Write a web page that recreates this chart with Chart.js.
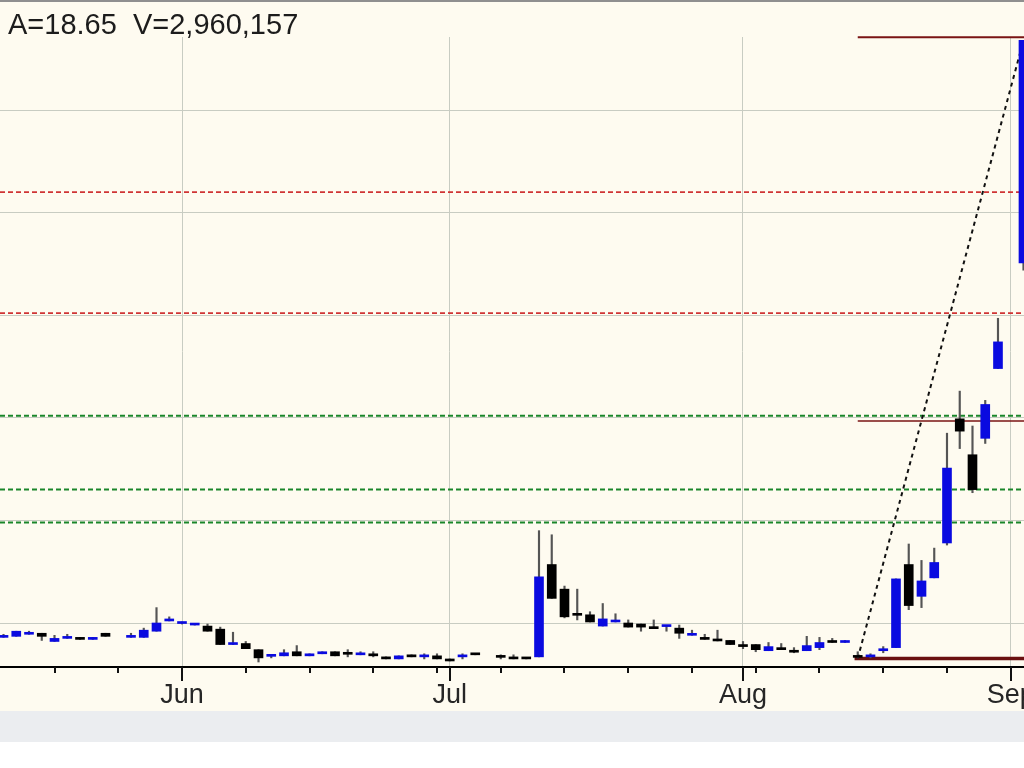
<!DOCTYPE html>
<html>
<head>
<meta charset="utf-8">
<script src="https://cdn.jsdelivr.net/npm/chart.js@4/dist/chart.umd.min.js"></script>
<style>
  body { margin: 0; background: #fff; width: 1024px; height: 768px; overflow: hidden; }
  #frame { position: absolute; left: 0; top: 0; width: 1024px; height: 711px; background: #fefbf0; border-top: 2px solid #8f8f8f; box-sizing: border-box; }
  #wrap { position: absolute; left: 0; top: 0; width: 1024px; height: 724px; }
  #info { position: absolute; left: 8px; top: 6px; font: 29px "Liberation Sans", Arial, sans-serif; line-height: 32px; color: #1c1c1c; white-space: pre; }
  #band { position: absolute; left: 0; top: 711px; width: 1024px; height: 31px; background: #ebedf0; }
</style>
</head>
<body>
<div id="frame">
  <div id="wrap"><canvas id="pricechart"></canvas></div>
  <div id="info">A=18.65  V=2,960,157</div>
</div>
<div id="band"></div>
<script>
// trading day index, 0 = Mon 2 Jun 2008 (weekdays, holidays left out)
const days = [-14,-13,-12,-11,-10,-9,-8,-7,-6,-4,-3,-2,-1,
  0,1,2,3,4,5,6,7,8,9,10,11,12,13,14,15,16,17,18,19,20,21,22,23,25,26,27,
  28,29,30,31,32,33,34,35,36,37,38,39,40,41,42,43,44,45,46,47,48,49,50,51,52,
  53,54,55,56,57,58,59,60,61,62,63,64,66];
const opens = [0.86,0.87,0.89,0.90,0.82,0.85,0.86,0.84,0.90,0.86,0.86,0.92,1.02,
  0.995,0.98,0.97,0.94,0.79,0.80,0.74,0.675,0.68,0.72,0.68,0.70,0.72,0.70,0.69,0.70,0.67,0.65,0.69,0.67,0.68,0.635,0.67,0.695,0.67,0.655,0.655,
  0.67,1.57,1.33,1.08,1.08,0.97,1.01,1.00,0.99,0.95,0.965,0.95,0.88,0.86,0.83,0.83,0.79,0.79,0.73,0.76,0.72,0.73,0.76,0.815,0.81,
  0.67,0.67,0.73,0.76,1.57,1.26,1.44,1.78,2.99,2.64,2.80,3.48,4.51];
const highs = [0.89,0.92,0.92,0.90,0.88,0.89,0.86,0.86,0.90,0.90,0.95,1.15,1.06,
  1.01,0.99,0.99,0.96,0.91,0.82,0.74,0.68,0.74,0.78,0.70,0.72,0.72,0.74,0.72,0.72,0.67,0.68,0.69,0.70,0.70,0.65,0.70,0.695,0.69,0.69,0.655,
  1.90,1.86,1.36,1.33,1.11,1.19,1.09,1.03,0.99,1.03,0.97,0.98,0.93,0.89,0.93,0.83,0.82,0.79,0.81,0.80,0.76,0.87,0.86,0.85,0.83,
  0.72,0.70,0.77,1.43,1.77,1.61,1.73,2.85,3.26,2.92,3.17,3.97,6.68];
const lows = [0.86,0.87,0.89,0.83,0.82,0.85,0.84,0.84,0.87,0.86,0.86,0.92,1.02,
  0.99,0.98,0.92,0.79,0.79,0.75,0.62,0.66,0.68,0.68,0.68,0.70,0.68,0.67,0.69,0.67,0.65,0.65,0.67,0.65,0.65,0.63,0.65,0.69,0.65,0.65,0.65,
  0.67,1.24,1.05,1.03,1.01,0.97,1.01,0.96,0.92,0.945,0.92,0.85,0.88,0.84,0.825,0.79,0.75,0.72,0.73,0.74,0.71,0.73,0.74,0.81,0.81,
  0.66,0.66,0.71,0.76,1.13,1.15,1.44,1.76,2.70,2.27,2.75,3.48,4.44];
const closes = [0.865,0.92,0.90,0.87,0.85,0.855,0.84,0.86,0.87,0.865,0.93,1.00,1.025,
  1.00,0.985,0.92,0.79,0.795,0.75,0.66,0.68,0.71,0.68,0.70,0.72,0.68,0.695,0.695,0.68,0.65,0.68,0.67,0.675,0.65,0.63,0.675,0.69,0.665,0.65,0.65,
  1.45,1.24,1.06,1.075,1.01,1.04,1.015,0.96,0.96,0.945,0.97,0.90,0.885,0.84,0.825,0.79,0.77,0.74,0.77,0.74,0.715,0.78,0.81,0.81,0.815,
  0.665,0.675,0.735,1.43,1.17,1.41,1.59,2.51,2.87,2.30,3.13,3.74,6.68];

// x axis ticks
const weekTicks = [-10,-5,0,5,10,15,20,25,30,35,40,45,50,55,60,65];
const monthTicks = [0,21,44,65];
const monthLabels = ['Jun','Jul','Aug','Sep'];
const priceGrid = [1,2,3,4,5,6];

// drawn levels
const fibStart = 53, chartEnd = 66.04, chartStart = -14.275;
const fibHigh = 6.71, fibMid = 2.97, fibLow = 0.655;
const redLevels = [5.20, 4.02];
const greenLevels = [3.02, 2.30, 1.98];
const trendFrom = [53, 0.655], trendTo = [66, 6.68];

const blue = '#0a0ae0';
const gridColor = '#c8ccc2';

const bodies = days.map((d, k) => ({x: d, y: [opens[k], closes[k]]}));
const wicks = days.map((d, k) => ({x: d, y: [lows[k], highs[k]]}));
const bodyColors = days.map((d, k) => closes[k] >= opens[k] ? blue : '#000000');

function level(y, x0, color, width, dash) {
  return {
    type: 'line', data: [{x: x0, y: y}, {x: chartEnd, y: y}],
    borderColor: color, borderWidth: width, borderDash: dash || [],
    pointRadius: 0, order: 5, clip: false
  };
}

const datasets = [
  {type: 'bar', data: bodies, backgroundColor: bodyColors, barThickness: 9, minBarLength: 2, grouped: false, order: 0},
  {type: 'bar', data: wicks, backgroundColor: '#555555', barThickness: 1.5, grouped: false, order: 1}
];
redLevels.forEach(v => datasets.push(level(v, chartStart, '#cf3434', 1.8, [5, 3])));
greenLevels.forEach(v => datasets.push(level(v, chartStart, '#1a862a', 2, [5, 3])));
datasets.push(level(fibHigh, fibStart, '#7a1414', 2));
datasets.push(level(fibMid, fibStart, '#7a1414', 1.5));
datasets.push(level(fibLow, fibStart - 0.25, '#6a1010', 3.5));
datasets.push({
  type: 'line', data: [{x: trendFrom[0], y: trendFrom[1]}, {x: trendTo[0], y: trendTo[1]}],
  borderColor: '#111', borderWidth: 2, borderDash: [4, 4], pointRadius: 0, order: 4, clip: false
});

// the last tick in the list carries no label, so the axis keeps its full width
const xTickList = weekTicks.concat([21, 44]).sort((a, b) => a - b);
xTickList.push(xTickList.splice(xTickList.length - 2, 1)[0]);

const tickMarks = {
  id: 'tickMarks',
  afterDraw(chart) {
    const ctx = chart.ctx, xs = chart.scales.x, bottom = chart.chartArea.bottom;
    ctx.save();
    ctx.strokeStyle = '#111';
    ctx.lineWidth = 2;
    weekTicks.concat(monthTicks).forEach(v => {
      const px = Math.round(xs.getPixelForValue(v));
      const len = monthTicks.includes(v) ? 14 : 6;
      ctx.beginPath();
      ctx.moveTo(px, bottom);
      ctx.lineTo(px, bottom + len);
      ctx.stroke();
    });
    ctx.restore();
  }
};

const ctx = document.getElementById('pricechart').getContext('2d');
const pricechart = new Chart(ctx, {
  type: 'bar',
  data: {datasets: datasets},
  options: {
    responsive: true,
    maintainAspectRatio: false,
    animation: false,
    layout: {padding: {top: 35, bottom: 2, left: 0, right: 0}, autoPadding: false},
    plugins: {legend: {display: false}, tooltip: {enabled: false}},
    scales: {
      x: {
        type: 'linear', min: chartStart, max: chartEnd, offset: false,
        afterBuildTicks: scale => { scale.ticks = xTickList.map(v => ({value: v})); },
        grid: {
          offset: false, drawTicks: false,
          color: c => (c.tick && monthTicks.includes(c.tick.value)) ? gridColor : 'rgba(0,0,0,0)'
        },
        border: {display: true, color: '#000', width: 2},
        ticks: {
          autoSkip: false, maxRotation: 0, padding: 15, color: '#262626',
          font: {family: '"Liberation Sans", Arial, sans-serif', size: 27, lineHeight: 1},
          callback: v => monthTicks.includes(v) ? monthLabels[monthTicks.indexOf(v)] : ''
        }
      },
      y: {
        type: 'linear', min: 0.5712, max: 6.7115,
        afterBuildTicks: scale => { scale.ticks = priceGrid.map(v => ({value: v})); },
        grid: {color: gridColor, drawTicks: false},
        border: {display: false},
        ticks: {display: false}
      }
    }
  },
  plugins: [tickMarks]
});
</script>
</body>
</html>
